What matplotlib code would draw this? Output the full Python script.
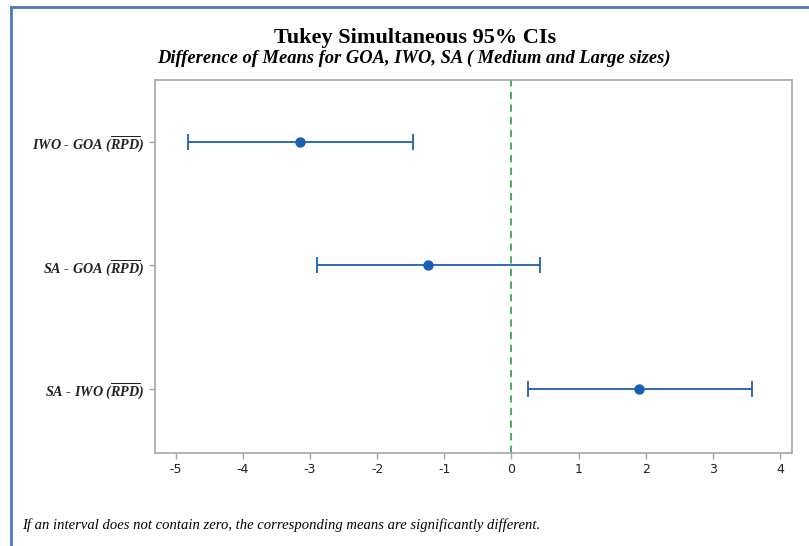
import matplotlib
matplotlib.use("Agg")
import matplotlib.pyplot as plt
from matplotlib.lines import Line2D

comparisons = ["IWO - GOA", "SA - GOA", "SA - IWO"]
centers = [-3.15, -1.25, 1.90]
lowers = [-4.82, -2.90, 0.24]
uppers = [-1.47, 0.43, 3.59]
xticks = [-5, -4, -3, -2, -1, 0, 1, 2, 3, 4]

plt.rcParams['mathtext.fontset'] = 'custom'
plt.rcParams['mathtext.it'] = 'Liberation Serif:italic:bold'
plt.rcParams['mathtext.rm'] = 'Liberation Serif:bold'
plt.rcParams['mathtext.bf'] = 'Liberation Serif:bold'

fig = plt.figure(figsize=(8.09, 5.46), dpi=100)
ax = fig.add_axes([155/809, 1-453/546, (792-155)/809, (453-80)/546])

blue = '#1a5fb0'
ys = list(range(len(comparisons)))
xerr = [[c - l for c, l in zip(centers, lowers)], [u - c for c, u in zip(centers, uppers)]]
ax.errorbar(centers, ys, xerr=xerr, fmt='o', color=blue, ecolor=blue,
            elinewidth=1.3, capsize=6, capthick=1.3, markersize=6.5)
ax.axvline(0, color='#3aa655', linestyle=(0, (4, 3)), linewidth=1.3, zorder=0)

ax.set_xlim(-5.31, 4.18)
ax.set_ylim(2.52, -0.5)
ax.set_xticks(xticks)
ax.set_xticklabels([str(t) for t in xticks], fontsize=9, family='DejaVu Sans', color='#222222')
ax.set_yticks(ys)
ax.set_yticklabels([c + r" ($\overline{RPD}$)" for c in comparisons],
                   fontsize=10.2, family='Liberation Serif', fontweight='bold', style='italic')
for s in ax.spines.values():
    s.set_color('#a6a6a6')
    s.set_linewidth(1.2)
ax.tick_params(axis='both', colors='#a6a6a6', length=4, width=1)
for lab in ax.get_xticklabels() + ax.get_yticklabels():
    lab.set_color('#222222')

fig.text(415/809, 1-38/546, "Tukey Simultaneous 95% CIs", ha='center', va='center',
         fontsize=16, family='Liberation Serif', fontweight='bold')
fig.text(414/809, 1-58/546, "Difference of Means for GOA, IWO, SA ( Medium and Large sizes)",
         ha='center', va='center', fontsize=13.3, family='Liberation Serif',
         fontweight='bold', style='italic')
fig.text(22/809, 1-525/546,
         "If an interval does not contain zero, the corresponding means are significantly different.",
         ha='left', va='center', fontsize=10.5, family='Liberation Serif', style='italic')

# outer frame lines
frame_color = '#4a78c8'
fig.add_artist(Line2D([11/809, 11/809], [0, 1-7/546], transform=fig.transFigure,
                      color=frame_color, linewidth=2))
fig.add_artist(Line2D([11/809, 1], [1-7/546, 1-7/546], transform=fig.transFigure,
                      color=frame_color, linewidth=2))

fig.savefig('out.png', dpi=100)
